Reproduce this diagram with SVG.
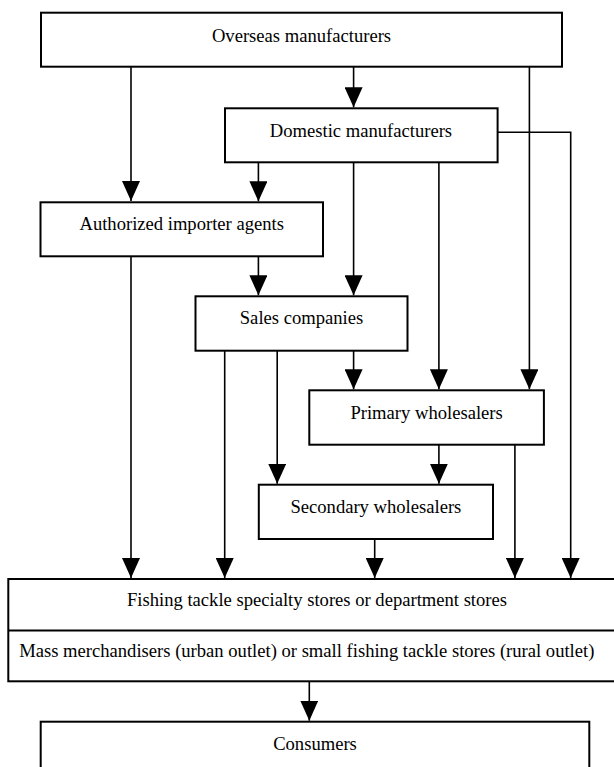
<svg xmlns="http://www.w3.org/2000/svg" width="614" height="767" viewBox="0 0 614 767">
<style>
.box{fill:#fff;stroke:#000;stroke-width:2}
.lbl{font-family:"Liberation Serif","Times New Roman",serif;font-size:18.6px;fill:#000;text-anchor:middle}
.c{fill:none;stroke:#000;stroke-width:1.6}
.a{marker-end:url(#ah)}
</style>
<defs>
<marker id="ah" markerUnits="userSpaceOnUse" viewBox="0 -9 20 18" refX="20" refY="0" markerWidth="20" markerHeight="18" orient="auto">
<path d="M0,-9 L20,0 L0,9 Z" fill="#000"/>
</marker>
</defs>
<rect width="614" height="767" fill="#fff"/>
<g id="connectors">
<path class="c a" d="M131,67 V201"/>
<path class="c a" d="M353.6,67 V107.3"/>
<path class="c a" d="M529.4,67 V389.3"/>
<path class="c a" d="M497.6,132.3 H570.7 V578"/>
<path class="c a" d="M258.4,162.3 V201.3"/>
<path class="c a" d="M353.6,162.3 V295.3"/>
<path class="c a" d="M438.9,162.3 V389.3"/>
<path class="c a" d="M131,256.3 V578"/>
<path class="c a" d="M258.4,256.3 V295.3"/>
<path class="c a" d="M224.7,350.7 V578"/>
<path class="c a" d="M277.2,350.7 V483.7"/>
<path class="c a" d="M353.6,350.7 V389.3"/>
<path class="c a" d="M438.9,444.7 V483.7"/>
<path class="c a" d="M514.9,444.7 V578"/>
<path class="c a" d="M374.7,539 V578"/>
<path class="c a" d="M309.3,681.3 V720.7"/>
</g>
<g id="overseas">
<rect class="box" x="41" y="12.7" width="521" height="54"/>
<text class="lbl" x="301.5" y="41.7">Overseas manufacturers</text>
</g>
<g id="domestic">
<rect class="box" x="225" y="108.3" width="272.6" height="54"/>
<text class="lbl" x="361" y="136.7">Domestic manufacturers</text>
</g>
<g id="importers">
<rect class="box" x="40.5" y="202.3" width="282.5" height="54"/>
<text class="lbl" x="181.7" y="230">Authorized importer agents</text>
</g>
<g id="sales">
<rect class="box" x="195.5" y="296.3" width="212" height="54.4"/>
<text class="lbl" x="301.5" y="324">Sales companies</text>
</g>
<g id="primary">
<rect class="box" x="309.3" y="390.3" width="234.6" height="54.4"/>
<text class="lbl" x="426.6" y="419.3">Primary wholesalers</text>
</g>
<g id="secondary">
<rect class="box" x="258.8" y="484.7" width="234.2" height="54.3"/>
<text class="lbl" x="375.9" y="513.3">Secondary wholesalers</text>
</g>
<g id="stores">
<rect class="box" x="8.3" y="579" width="620" height="102.3"/>
<line x1="8.3" y1="630.5" x2="628.3" y2="630.5" stroke="#000" stroke-width="2"/>
<text class="lbl" x="317" y="606">Fishing tackle specialty stores or department stores</text>
<text class="lbl" x="306.8" y="657.3">Mass merchandisers (urban outlet) or small fishing tackle stores (rural outlet)</text>
</g>
<g id="consumers">
<rect class="box" x="40.7" y="721.7" width="548.6" height="60"/>
<text class="lbl" x="315" y="750">Consumers</text>
</g>
</svg>
